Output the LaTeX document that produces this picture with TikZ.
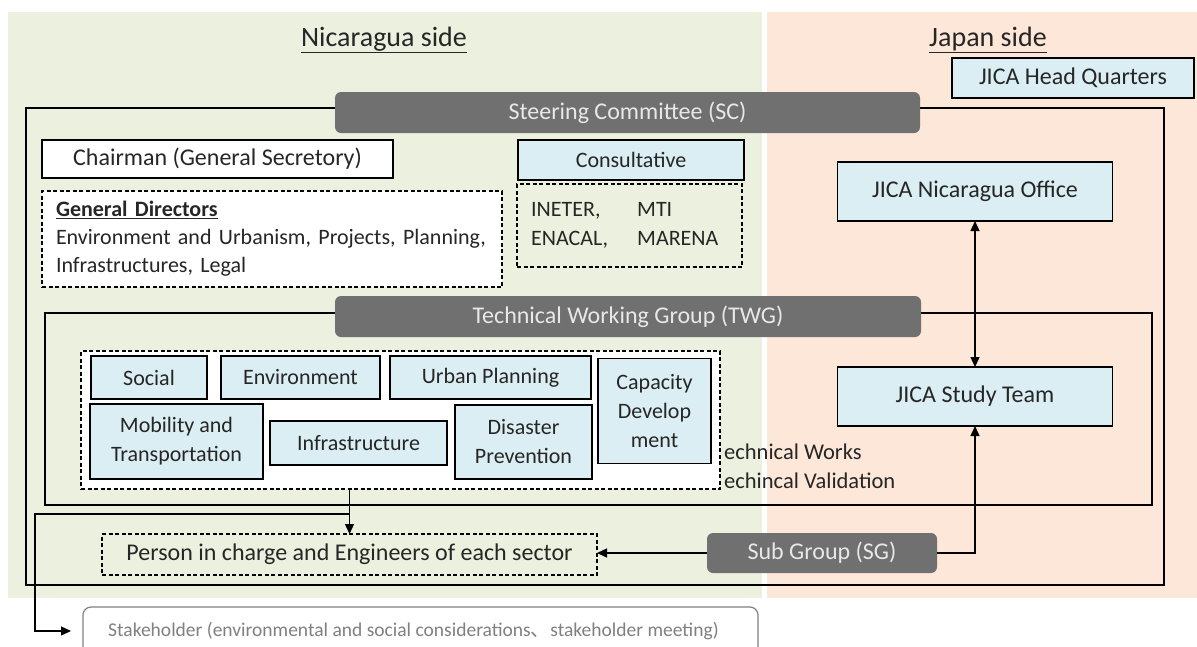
\documentclass[tikz,border=0pt]{standalone}
\usepackage{fontspec}
\setmainfont{Carlito}
\newfontfamily\cjk{Noto Sans CJK JP}
\usetikzlibrary{arrows.meta}
\definecolor{bggreen}{RGB}{235,241,222}
\definecolor{bgpink}{RGB}{252,231,216}
\definecolor{boxblue}{RGB}{218,238,243}
\definecolor{bargray}{RGB}{112,112,112}
\definecolor{bartext}{RGB}{232,232,232}
\definecolor{stkgray}{RGB}{128,128,128}
\definecolor{txt}{RGB}{38,38,38}
\newcommand\fsz[2]{\fontsize{#1pt}{#2pt}\selectfont}
\tikzset{
  solidbox/.style={draw=black, line width=1.6pt, inner sep=0pt, outer sep=0pt, align=center, text=txt, font=\fsz{22}{29}},
  bluebox/.style={solidbox, fill=boxblue},
  whitebox/.style={solidbox, fill=white},
  bigtext/.style={font=\fsz{24}{29}},
  dbox/.style={draw=black, line width=1.3pt, dash pattern=on 4pt off 2.5pt, inner sep=0pt, outer sep=0pt, text=txt, font=\fsz{22}{28}},
  darkbar/.style={fill=bargray, rounded corners=6pt, text=bartext, inner sep=0pt, outer sep=0pt, font=\fsz{24}{28}},
  frameline/.style={draw=black, line width=1.3pt},
  arr/.style={-{Triangle[length=10pt,width=9pt]}, line width=1.3pt},
  dblarr/.style={{Triangle[length=10pt,width=9pt]}-{Triangle[length=10pt,width=9pt]}, line width=1.3pt},
  title/.style={inner sep=0pt, text=txt, font=\fsz{28}{32}},
  plain/.style={inner sep=0pt, text=txt, font=\fsz{22.5}{28}}
}
\begin{document}
\begin{tikzpicture}[x=1pt,y=-1pt]
\useasboundingbox (0,0) rectangle (1197,646);
% panels
\fill[bggreen] (8,12) rectangle (762,598);
\fill[bgpink] (767,12) rectangle (1197,598);
\node[title] (nictitle) at (384,40) {\underline{Nicaragua side}};
\node[title] (jptitle) at (988,40) {\underline{Japan side}};
% JICA HQ
\node[bluebox, bigtext, minimum width=242pt, minimum height=40pt] (hq) at (1073,78) {JICA Head Quarters};
% Steering committee frame and bar
\draw[frameline] (26,108) rectangle (1164,585);
\node[darkbar, minimum width=585pt, minimum height=41pt] (sc) at (627.5,112.5) {Steering Committee (SC)};
\node[whitebox, bigtext, minimum width=351pt, minimum height=38pt] (chair) at (217.5,159) {Chairman (General Secretory)};
\node[bluebox, minimum width=226pt, minimum height=40pt] (consult) at (631,160) {Consultative};
\node[dbox, fill=white, minimum width=460pt, minimum height=96pt, text width=432pt, align=left] (gd) at (272,239)
  {\textbf{\underline{General Directors}}\\Environment and Urbanism, Projects, Planning,\\Infrastructures, Legal};
\node[dbox, minimum width=225pt, minimum height=83pt] (members) at (629.5,225.5) {};
\node[inner sep=0pt, text=txt, font=\fsz{22}{28}, anchor=west] (memtext) at (531,225.5)
  {\begin{tabular}{@{}p{106pt}@{}l@{}}INETER, & MTI\\[1pt] ENACAL, & MARENA\end{tabular}};
\node[bluebox, bigtext, minimum width=275pt, minimum height=59pt] (jno) at (975,191.5) {JICA Nicaragua Office};
% Technical working group
\draw[frameline] (45,313) rectangle (1152,505);
\node[darkbar, minimum width=586pt, minimum height=41pt] (twg) at (628,316.5) {Technical Working Group (TWG)};
\node[bluebox, bigtext, minimum width=275pt, minimum height=59pt] (jst) at (975,396.5) {JICA Study Team};
\node[dbox, fill=white, minimum width=639pt, minimum height=138pt] (tw) at (400.5,420) {};
\node[bluebox, minimum width=116pt, minimum height=43pt] (social) at (149,377.5) {Social};
\node[bluebox, minimum width=159pt, minimum height=43pt] (env) at (300.5,377.5) {Environment};
\node[bluebox, minimum width=201pt, minimum height=43pt] (urban) at (490.5,377.5) {Urban Planning};
\node[bluebox, minimum width=113pt, minimum height=105pt] (cap) at (654.5,411) {Capacity\\Develop\\ment};
\node[bluebox, minimum width=173pt, minimum height=75pt] (mob) at (176.5,441.5) {Mobility and\\Transportation};
\node[bluebox, minimum width=177pt, minimum height=44pt] (infra) at (358.5,443) {Infrastructure};
\node[bluebox, minimum width=137pt, minimum height=74pt] (dis) at (523.5,442) {Disaster\\Prevention};
\node[plain, anchor=west] (works) at (724,452) {echnical Works};
\node[plain, anchor=west] (valid) at (724,481) {echincal Validation};
% lower part
\node[dbox, font=\fsz{24}{28}, minimum width=495pt, minimum height=41pt] (person) at (349.5,554.5) {Person in charge and Engineers of each sector};
\node[darkbar, minimum width=230pt, minimum height=40pt] (sg) at (822,553) {Sub Group (SG)};
\node[draw=stkgray, fill=white, line width=1.2pt, rounded corners=8pt, inner sep=0pt, outer sep=0pt,
      minimum width=675pt, minimum height=48pt] (stk) at (420.5,631) {};
\node[inner sep=0pt, text=stkgray, font=\fsz{19.5}{24}, anchor=west] (stktext) at (108,631)
  {Stakeholder (environmental and social considerations{\cjk 、}stakeholder meeting)};
% connectors
\draw[dblarr] (jno.south) -- (jst.north);
\draw[arr] (tw.south -| person.north) -- (person.north);
\coordinate (sl) at (35,514);
\draw[arr, shorten >=12pt] (person.north |- sl) -- (sl) |- (stk.west);
\draw[arr] (sg.west) -- (sg.west -| person.east);
\draw[arr] (sg.east) -| (jst.south);
\end{tikzpicture}
\end{document}
